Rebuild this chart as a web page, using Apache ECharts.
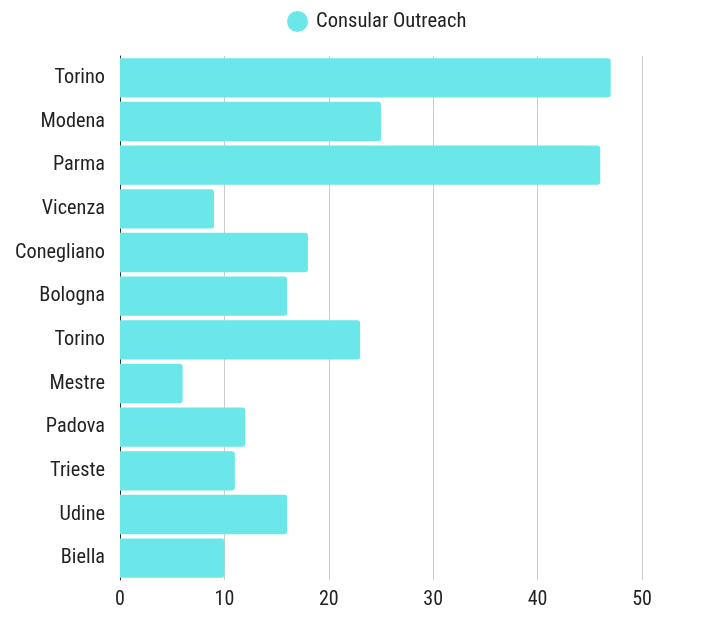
<!DOCTYPE html>
<html><head><meta charset="utf-8">
<script src="https://cdn.jsdelivr.net/npm/echarts@6/dist/echarts.min.js"></script>
<style>html,body{margin:0;padding:0;background:#fff}#c{width:711px;height:630px}</style>
</head><body><div id="c"></div>
<script>
const categories = ["Torino","Modena","Parma","Vicenza","Conegliano","Bologna","Torino","Mestre","Padova","Trieste","Udine","Biella"];
const seriesName = "Consular Outreach";
const values = [47,25,46,9,18,16,23,6,12,11,16,10];
const xTicks = [0,10,20,30,40,50];

const FONT = "'Roboto Condensed','Liberation Sans Narrow','DejaVu Sans Condensed',Roboto,sans-serif";
const chart = echarts.init(document.getElementById('c'));
chart.setOption({
  animation: false,
  textStyle: {fontFamily: FONT},
  legend: {
    top: 6, left: 282, icon: 'circle', itemWidth: 21, itemHeight: 21, itemGap: 8,
    textStyle: {fontFamily: FONT, fontSize: 20.6, color: '#222', padding: [0,0,0,3]}
  },
  grid: {left: 120, right: 69, top: 56, bottom: 50, containLabel: false},
  xAxis: {
    type: 'value', min: xTicks[0], max: xTicks[xTicks.length-1], interval: 10,
    axisLine: {show: false}, axisTick: {show: false},
    splitLine: {lineStyle: {color: '#cccccc', width: 1}},
    axisLabel: {fontFamily: FONT, fontSize: 20, color: '#222', margin: 10}
  },
  yAxis: {
    type: 'category', data: categories, inverse: true,
    axisLine: {show: true, lineStyle: {color: '#333'}},
    axisTick: {show: false},
    axisLabel: {fontFamily: FONT, fontSize: 20.3, color: '#222', margin: 15}
  },
  series: [{
    name: seriesName, type: 'bar', data: values, barCategoryGap: '10%',
    itemStyle: {color: '#6be6e9', borderRadius: [0, 3, 3, 0]}
  }]
});
</script></body></html>
